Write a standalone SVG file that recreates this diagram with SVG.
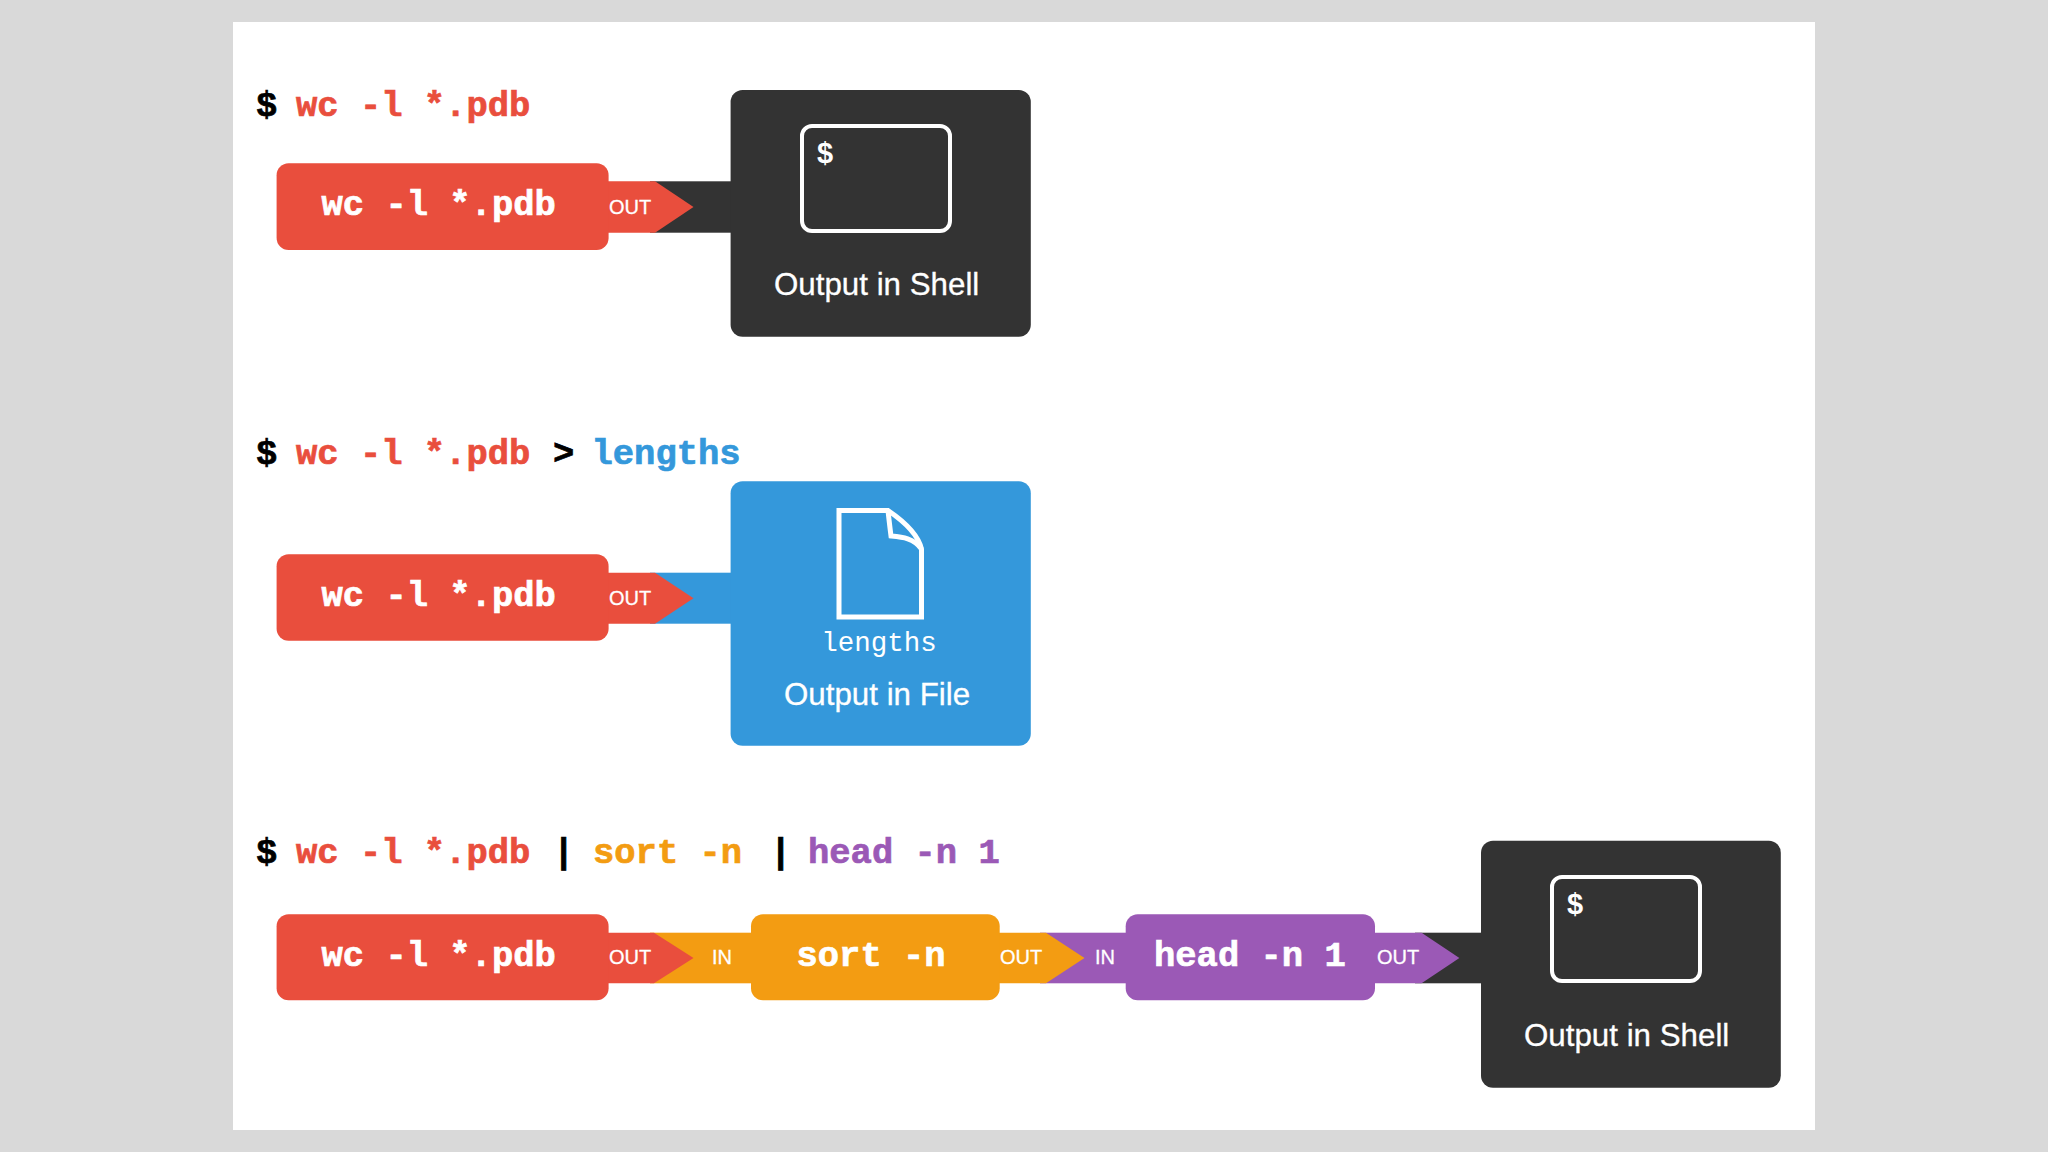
<svg xmlns="http://www.w3.org/2000/svg" width="2048" height="1152" viewBox="0 0 2048 1152">
<style>
.m{font-family:"Liberation Mono","Courier New",monospace;font-weight:700;font-size:35.500px;stroke-width:.7px}
.t{font-family:"Liberation Mono","Courier New",monospace;font-weight:700;font-size:35.500px;fill:#fff;stroke:#fff;stroke-width:.7px}
.s{font-family:"Liberation Sans",Arial,sans-serif;fill:#fff;stroke:#fff;stroke-width:.3px}
.p{font-size:20px}
.o{font-size:31.300px}
.r{fill:#e94e3d}.d{fill:#333}.b{fill:#3498db}.y{fill:#f39c12}.v{fill:#9b59b6}.k{fill:#000}
tspan.r{stroke:#e94e3d}tspan.b{stroke:#3498db}tspan.y{stroke:#f39c12}tspan.v{stroke:#9b59b6}tspan.k{stroke:#000}
.ic{fill:none;stroke:#fff;stroke-width:4}
.doc{fill:none;stroke:#fff;stroke-width:5}
.dl{font-family:"Liberation Sans",Arial,sans-serif;font-weight:700;font-size:29px;fill:#fff}
</style>
<rect width="2048" height="1152" fill="#d9d9d9"/>
<rect x="233" y="22" width="1582" height="1108" fill="#fff"/>
<g id="commands">
<text class="m" y="116"><tspan class="k" x="256">$</tspan><tspan class="r" x="296">wc -l *.pdb</tspan></text>
<text class="m" y="464"><tspan class="k" x="256">$</tspan><tspan class="r" x="296">wc -l *.pdb</tspan><tspan class="k" x="553">&gt;</tspan><tspan class="b" x="591.500">lengths</tspan></text>
<text class="m" y="863"><tspan class="k" x="256">$</tspan><tspan class="r" x="296">wc -l *.pdb</tspan><tspan class="k" x="553">|</tspan><tspan class="y" x="593">sort -n</tspan><tspan class="k" x="770">|</tspan><tspan class="v" x="808">head -n 1</tspan></text>
</g>
<g id="connectors">
<rect class="d" x="650" y="181.300" width="85" height="51.400"/>
<path class="r" d="M600 181.300H655L693.500 207L655 232.700H600Z"/>
<rect class="b" x="650" y="572.700" width="85" height="51"/>
<path class="r" d="M600 572.700H655L693.500 598.200L655 623.700H600Z"/>
<rect class="y" x="650" y="932.700" width="105" height="50.600"/>
<path class="r" d="M600 932.700H654L693.500 958L654 983.300H600Z"/>
<rect class="v" x="1040" y="932.700" width="90" height="50.600"/>
<path class="y" d="M995 932.700H1046L1084.500 958L1046 983.300H995Z"/>
<rect class="d" x="1415" y="932.700" width="70" height="50.600"/>
<path class="v" d="M1370 932.700H1421.600L1459.400 958L1421.600 983.300H1370Z"/>
</g>
<g id="cmd1">
<rect class="r" x="276.600" y="163.300" width="332" height="86.700" rx="12"/>
<text class="t" x="321.500" y="214.500">wc -l *.pdb</text>
<text class="s p" x="609" y="214">OUT</text>
</g>
<g id="shell1">
<rect class="d" x="730.600" y="90" width="300.200" height="246.700" rx="12"/>
<rect class="ic" x="802" y="126" width="148" height="105" rx="10"/>
<text class="dl" x="817" y="163">$</text>
<text class="s o" x="774" y="295">Output in Shell</text>
</g>
<g id="cmd2">
<rect class="r" x="276.600" y="554.300" width="332" height="86.400" rx="12"/>
<text class="t" x="321.500" y="605.500">wc -l *.pdb</text>
<text class="s p" x="609" y="605">OUT</text>
</g>
<g id="file">
<rect class="b" x="730.600" y="481.300" width="300.200" height="264.400" rx="12"/>
<path class="doc" d="M839 617V510.500H888C902 520 918 534 921.500 549V617Z"/>
<path class="doc" d="M888 510.500C889 520 890 528 891 536C902 537 914 538 921.500 549"/>
<text x="879" y="651" text-anchor="middle" font-family="Liberation Mono,Courier New,monospace" font-size="27.500" fill="#fff">lengths</text>
<text class="s o" x="784" y="705">Output in File</text>
</g>
<g id="cmd3">
<rect class="r" x="276.600" y="914.300" width="332" height="86" rx="12"/>
<text class="t" x="321.500" y="965.500">wc -l *.pdb</text>
<text class="s p" x="609" y="964">OUT</text>
</g>
<g id="sort">
<rect class="y" x="751" y="914.300" width="248.700" height="86" rx="12"/>
<text class="s p" x="712" y="964">IN</text>
<text class="t" x="796.500" y="965.500">sort -n</text>
<text class="s p" x="1000" y="964">OUT</text>
</g>
<g id="head">
<rect class="v" x="1125.700" y="914.300" width="249.300" height="86" rx="12"/>
<text class="s p" x="1095" y="964">IN</text>
<text class="t" x="1154" y="965.500">head -n 1</text>
<text class="s p" x="1377" y="964">OUT</text>
</g>
<g id="shell2">
<rect class="d" x="1481" y="840.700" width="299.800" height="247" rx="12"/>
<rect class="ic" x="1552" y="877" width="148" height="104" rx="10"/>
<text class="dl" x="1567" y="914">$</text>
<text class="s o" x="1524" y="1046">Output in Shell</text>
</g>
</svg>
